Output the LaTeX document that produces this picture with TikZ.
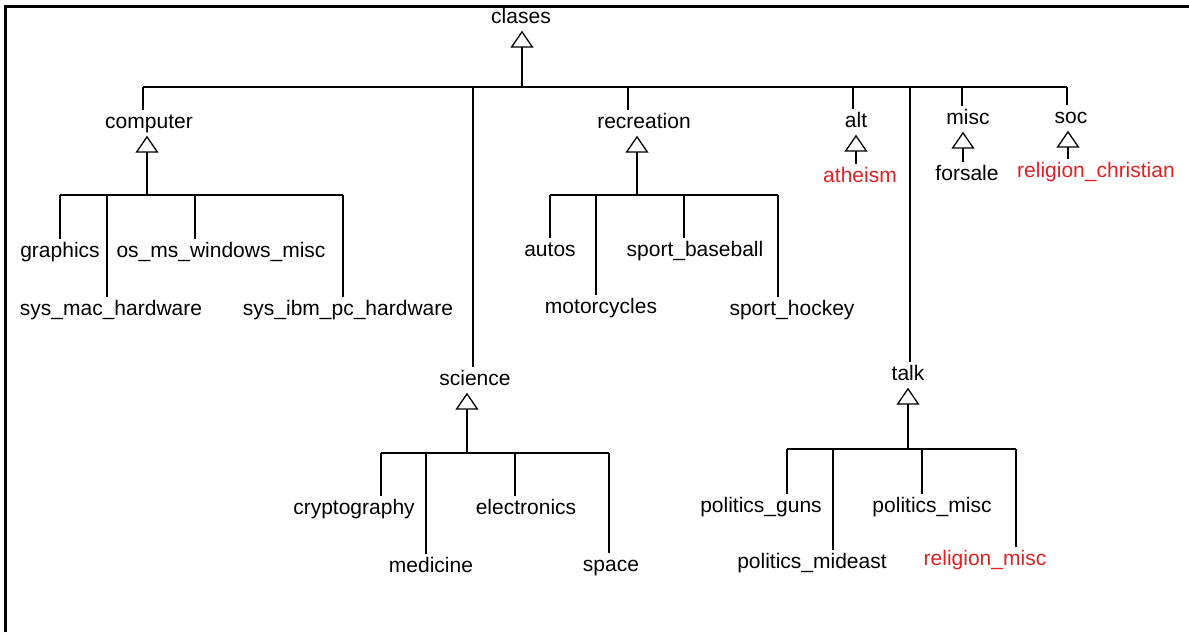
\documentclass[tikz,border=0pt]{standalone}
\usepackage{fontspec}
\setmainfont{Liberation Sans}
\usetikzlibrary{arrows.meta}
\definecolor{redtxt}{RGB}{225,32,36}
\begin{document}
\begin{tikzpicture}[x=1pt,y=-1pt,
  lbl/.style={anchor=base, inner xsep=0pt, inner ysep=3pt, text height=15pt, text depth=4.5pt, font=\fontsize{21}{25}\selectfont},
  hl/.style={text=redtxt},
  ln/.style={line width=1.3pt},
  gen/.style={ln, -{Triangle[open, width=23pt, length=17pt, line width=1.3pt]}}
]
\useasboundingbox (0,0) rectangle (1189,632);
\draw[line width=3pt] (5.5,632) -- (5.5,6.5) -- (1189,6.5);

% nodes
\node[lbl] (clases) at (521,23) {clases};
\node[lbl] (computer) at (149,128) {computer};
\node[lbl] (recreation) at (644,128) {recreation};
\node[lbl] (alt) at (856,127) {alt};
\node[lbl] (misc) at (968,124) {misc};
\node[lbl] (soc) at (1071,123) {soc};
\node[lbl,hl] (atheism) at (860,182) {atheism};
\node[lbl] (forsale) at (967,180) {forsale};
\node[lbl,hl] (relchr) at (1096,177) {religion\_christian};
\node[lbl] (graphics) at (60,257) {graphics};
\node[lbl] (osms) at (221,257) {os\_ms\_windows\_misc};
\node[lbl] (sysmac) at (111,315) {sys\_mac\_hardware};
\node[lbl] (sysibm) at (348,315) {sys\_ibm\_pc\_hardware};
\node[lbl] (autos) at (550,256) {autos};
\node[lbl] (baseball) at (695,256) {sport\_baseball};
\node[lbl] (motorcycles) at (601,313) {motorcycles};
\node[lbl] (hockey) at (792,315) {sport\_hockey};
\node[lbl] (science) at (475,385) {science};
\node[lbl] (crypto) at (354,514) {cryptography};
\node[lbl] (electronics) at (526,514) {electronics};
\node[lbl] (medicine) at (431,572) {medicine};
\node[lbl] (space) at (611,571) {space};
\node[lbl] (talk) at (908,380) {talk};
\node[lbl] (guns) at (761,512) {politics\_guns};
\node[lbl] (polmisc) at (932,512) {politics\_misc};
\node[lbl] (mideast) at (812,568) {politics\_mideast};
\node[lbl,hl] (relmisc) at (985,565) {religion\_misc};

% top level
\coordinate (t0) at (522,87);
\coordinate (tcomp) at (143,87);
\coordinate (tsci) at (473,87);
\coordinate (trec) at (628,87);
\coordinate (talt) at (853,87);
\coordinate (ttalk) at (910,87);
\coordinate (tmisc) at (962,87);
\coordinate (tsoc) at (1067,87);
\draw[ln] (tcomp) -- (tsoc);
\draw[gen] (t0) -- (t0 |- clases.south);
\foreach \c/\n in {tcomp/computer, tsci/science, trec/recreation, talt/alt, ttalk/talk, tmisc/misc, tsoc/soc}
  \draw[ln] (\c) -- (\c |- \n.north);

% single-child groups
\coordinate (a0) at (856,164);
\draw[gen] (a0 |- atheism.north) -- (a0 |- alt.south);
\coordinate (m0) at (963,162);
\draw[gen] (m0 |- forsale.north) -- (m0 |- misc.south);
\coordinate (o0) at (1068,160);
\draw[gen] (o0 |- relchr.north) -- (o0 |- soc.south);

% computer
\coordinate (c0) at (147,195);
\coordinate (c1) at (60,195);
\coordinate (c2) at (107,195);
\coordinate (c3) at (195,195);
\coordinate (c4) at (343,195);
\draw[ln] (c1) -- (c4);
\draw[gen] (c0) -- (c0 |- computer.south);
\foreach \c/\n in {c1/graphics, c2/sysmac, c3/osms, c4/sysibm}
  \draw[ln] (\c) -- (\c |- \n.north);

% recreation
\coordinate (r0) at (637,195);
\coordinate (r1) at (550,195);
\coordinate (r2) at (596,195);
\coordinate (r3) at (684,195);
\coordinate (r4) at (778,195);
\draw[ln] (r1) -- (r4);
\draw[gen] (r0) -- (r0 |- recreation.south);
\foreach \c/\n in {r1/autos, r2/motorcycles, r3/baseball, r4/hockey}
  \draw[ln] (\c) -- (\c |- \n.north);

% science
\coordinate (s0) at (467,453);
\coordinate (s1) at (381,453);
\coordinate (s2) at (426,453);
\coordinate (s3) at (515,453);
\coordinate (s4) at (609,453);
\draw[ln] (s1) -- (s4);
\draw[gen] (s0) -- (s0 |- science.south);
\foreach \c/\n in {s1/crypto, s2/medicine, s3/electronics, s4/space}
  \draw[ln] (\c) -- (\c |- \n.north);

% talk
\coordinate (k0) at (908,449);
\coordinate (k1) at (787,449);
\coordinate (k2) at (833,449);
\coordinate (k3) at (922,449);
\coordinate (k4) at (1016,449);
\draw[ln] (k1) -- (k4);
\draw[gen] (k0) -- (k0 |- talk.south);
\foreach \c/\n in {k1/guns, k2/mideast, k3/polmisc, k4/relmisc}
  \draw[ln] (\c) -- (\c |- \n.north);
\end{tikzpicture}
\end{document}
